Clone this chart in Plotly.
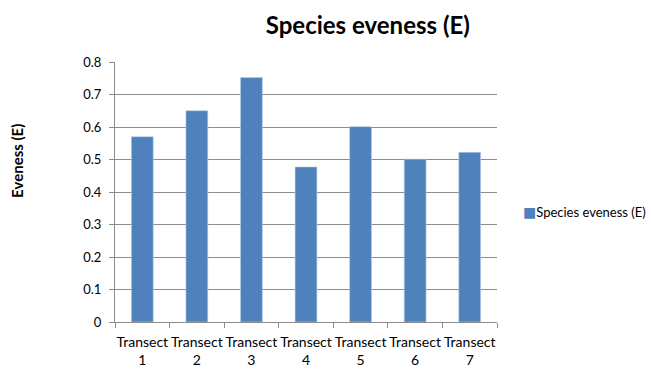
import plotly.graph_objects as go

# Species evenness per transect
categories = ["Transect<br>1", "Transect<br>2", "Transect<br>3", "Transect<br>4",
              "Transect<br>5", "Transect<br>6", "Transect<br>7"]
evenness = [0.57, 0.65, 0.752, 0.477, 0.601, 0.501, 0.522]
series_name = "Species eveness (E)"
y_ticks = [0, 0.1, 0.2, 0.3, 0.4, 0.5, 0.6, 0.7, 0.8]
y_tick_text = ["0", "0.1", "0.2", "0.3", "0.4", "0.5", "0.6", "0.7", "0.8"]

FONT = "Lato"
BAR_BLUE = "#4F81BD"
GRID = "#8C8C8C"

fig = go.Figure()
fig.add_trace(go.Bar(
    x=categories,
    y=evenness,
    name=series_name,
    marker=dict(color=BAR_BLUE, line=dict(color="#B9CDE5", width=0.6)),
    showlegend=False,
))

# Compact legend entry (swatch sits right next to the label)
legend_entry = dict(
    text=f"<span style='color:{BAR_BLUE}; font-family:DejaVu Sans; font-size:14px'>■</span>{series_name}",
    xref="paper", yref="paper",
    x=1.062, y=0.423,
    xanchor="left", yanchor="middle",
    showarrow=False,
    font=dict(family=FONT, size=13, color="#000000"),
)

fig.update_layout(
    width=651,
    height=369,
    margin=dict(l=115, r=154, t=62, b=47, autoexpand=False),
    paper_bgcolor="white",
    plot_bgcolor="white",
    bargap=0.6,
    font=dict(family=FONT, size=13, color="#000000"),
    title=dict(
        text="<b>Species eveness (E)</b>",
        font=dict(family=FONT, size=24, color="#000000"),
        x=0.565, xanchor="center",
        y=0.93, yanchor="middle",
    ),
    showlegend=False,
    xaxis=dict(
        showgrid=False,
        showline=True, linecolor=GRID, linewidth=1,
        ticks="outside", ticklen=5, tickcolor=GRID,
        tickson="boundaries",
        tickangle=0,
        automargin=False,
        ticklabelstandoff=7,
        tickfont=dict(family=FONT, size=14),
    ),
    yaxis=dict(
        range=[0, 0.8],
        tickvals=y_ticks, ticktext=y_tick_text,
        showgrid=True, gridcolor=GRID, gridwidth=1,
        showline=True, linecolor=GRID, linewidth=1,
        ticks="outside", ticklen=5, tickcolor=GRID,
        ticklabelstandoff=5,
        tickfont=dict(family=FONT, size=13),
        zeroline=False,
        automargin=False,
    ),
    annotations=[
        dict(
            text="<b>Eveness (E)</b>",
            xref="paper", yref="paper",
            x=-0.257, y=0.619,
            xanchor="center", yanchor="middle",
            textangle=-90,
            showarrow=False,
            font=dict(family=FONT, size=15, color="#000000"),
        ),
        legend_entry,
    ],
)

fig.write_html("out.html")
